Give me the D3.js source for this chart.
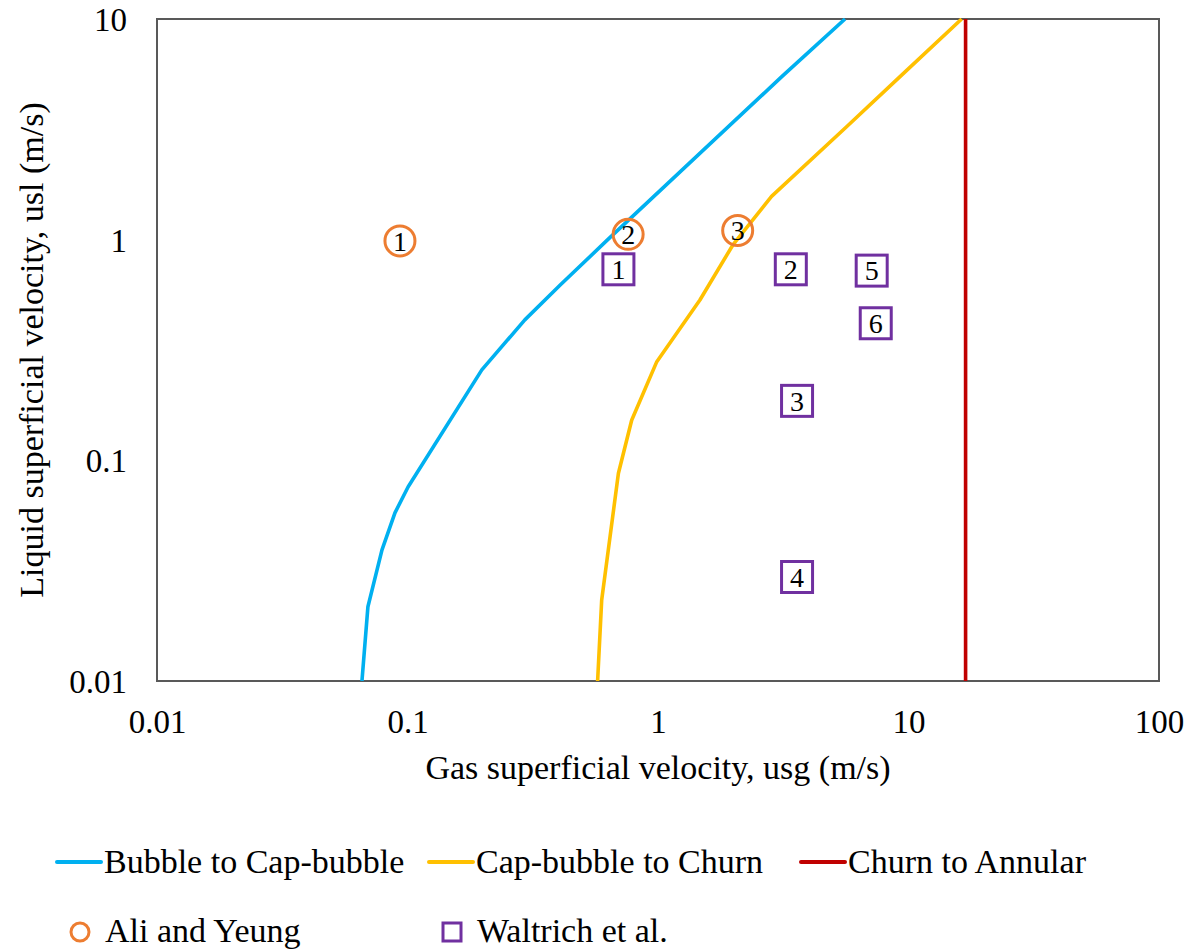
<!DOCTYPE html>
<html>
<head>
<meta charset="utf-8">
<script src="https://cdn.jsdelivr.net/npm/d3@7"></script>
<style>
  html, body { margin: 0; padding: 0; background: #fff; }
  svg { display: block; }
  svg text { font-family: "Liberation Serif", "Times New Roman", Times, serif; fill: #000; }
</style>
</head>
<body>
<svg id="chart" width="1192" height="951"></svg>
<script>
// ---- Data ----
const xTicks = [0.01, 0.1, 1, 10, 100];
const xTickLabels = ["0.01", "0.1", "1", "10", "100"];
const yTicks = [0.01, 0.1, 1, 10];
const yTickLabels = ["0.01", "0.1", "1", "10"];

const bubbleCapX = [0.0658, 0.0695, 0.0791, 0.0891, 0.1005, 0.198, 0.294, 0.407, 0.63, 3.12, 5.58];
const bubbleCapY = [0.01, 0.0217, 0.0393, 0.0578, 0.0757, 0.257, 0.433, 0.623, 1.0, 5.48, 10];

const capChurnX = [0.574, 0.596, 0.695, 0.785, 0.989, 1.47, 1.99, 2.84, 5.66, 9.25, 16.3];
const capChurnY = [0.01, 0.0233, 0.0874, 0.152, 0.28, 0.533, 0.946, 1.57, 3.25, 5.48, 10];

const churnAnnularX = [16.9, 16.9];
const churnAnnularY = [0.01, 10];

const aliLabels = ["1", "2", "3"];
const aliX = [0.0933, 0.76, 2.08];
const aliY = [0.987, 1.057, 1.10];

const waltLabels = ["1", "2", "3", "4", "5", "6"];
const waltX = [0.695, 3.39, 3.59, 3.59, 7.13, 7.40];
const waltY = [0.734, 0.734, 0.186, 0.0296, 0.724, 0.418];

const lineNames = ["Bubble to Cap-bubble", "Cap-bubble to Churn", "Churn to Annular"];
const markerNames = ["Ali and Yeung", "Waltrich et al."];

// ---- Layout ----
const FONT = "'Liberation Serif', 'Times New Roman', serif";
const C = { blue: "#00B0F0", orange: "#FFC000", red: "#C00000", circ: "#ED7D31", sq: "#7030A0", frame: "#595959" };
const plot = { left: 157, right: 1159, top: 19, bottom: 681 };

const svg = d3.select("#chart");
const x = d3.scaleLog().domain([0.01, 100]).range([plot.left, plot.right]);
const y = d3.scaleLog().domain([0.01, 10]).range([plot.bottom, plot.top]);

// Frame
svg.append("rect")
  .attr("x", plot.left).attr("y", plot.top)
  .attr("width", plot.right - plot.left).attr("height", plot.bottom - plot.top)
  .attr("fill", "none").attr("stroke", C.frame).attr("stroke-width", 2);

// Axes (labels only)
const xAxis = d3.axisBottom(x).tickValues(xTicks).tickSize(0)
  .tickFormat((d, i) => xTickLabels[i]);
const gx = svg.append("g").attr("transform", `translate(0,${plot.bottom})`).call(xAxis)
  .attr("font-family", FONT);
gx.select(".domain").remove();
gx.selectAll("text").attr("font-size", 33).attr("dy", null).attr("y", 52).attr("fill", "#000");

const yAxis = d3.axisLeft(y).tickValues(yTicks).tickSize(0)
  .tickFormat((d, i) => yTickLabels[i]);
const gy = svg.append("g").attr("transform", `translate(${plot.left},0)`).call(yAxis)
  .attr("font-family", FONT);
gy.select(".domain").remove();
gy.selectAll("text").attr("font-size", 33).attr("x", -30).attr("dy", "0.35em").attr("fill", "#000");

// Axis titles
svg.append("text").attr("x", (plot.left + plot.right) / 2).attr("y", 779)
  .attr("text-anchor", "middle").attr("font-size", 34)
  .text("Gas superficial velocity, usg (m/s)");
svg.append("text").attr("transform", `translate(43,${(plot.top + plot.bottom) / 2}) rotate(-90)`)
  .attr("text-anchor", "middle").attr("font-size", 34)
  .text("Liquid superficial velocity, usl (m/s)");

// Lines
const line = d3.line().x(d => x(d[0])).y(d => y(d[1]));
svg.append("clipPath").attr("id", "clip").append("rect")
  .attr("x", plot.left).attr("y", plot.top - 1)
  .attr("width", plot.right - plot.left).attr("height", plot.bottom - plot.top + 1);
const gl = svg.append("g").attr("clip-path", "url(#clip)");
function drawLine(xs, ys, color) {
  gl.append("path").datum(xs.map((v, i) => [v, ys[i]]))
    .attr("d", line).attr("fill", "none").attr("stroke", color)
    .attr("stroke-width", 3.6).attr("stroke-linejoin", "round");
}
drawLine(bubbleCapX, bubbleCapY, C.blue);
drawLine(capChurnX, capChurnY, C.orange);
drawLine(churnAnnularX, churnAnnularY, C.red);

// Markers
const r = 15;
const gA = svg.append("g");
aliX.forEach((v, i) => {
  const cx = x(v), cy = y(aliY[i]);
  gA.append("circle").attr("cx", cx).attr("cy", cy).attr("r", r)
    .attr("fill", "none").attr("stroke", C.circ).attr("stroke-width", 3);
  gA.append("text").attr("x", cx).attr("y", cy).attr("dy", "0.35em")
    .attr("text-anchor", "middle").attr("font-size", 28).text(aliLabels[i]);
});
const s = 31;
waltX.forEach((v, i) => {
  const cx = x(v), cy = y(waltY[i]);
  gA.append("rect").attr("x", cx - s / 2).attr("y", cy - s / 2).attr("width", s).attr("height", s)
    .attr("fill", "#fff").attr("stroke", C.sq).attr("stroke-width", 3);
  gA.append("text").attr("x", cx).attr("y", cy).attr("dy", "0.35em")
    .attr("text-anchor", "middle").attr("font-size", 28).text(waltLabels[i]);
});

// Legend
const lg = svg.append("g");
const lineLeg = [
  { name: lineNames[0], color: C.blue, x0: 57 },
  { name: lineNames[1], color: C.orange, x0: 429 },
  { name: lineNames[2], color: C.red, x0: 801 }
];
lineLeg.forEach(d => {
  lg.append("line").attr("x1", d.x0).attr("x2", d.x0 + 44).attr("y1", 862).attr("y2", 862)
    .attr("stroke", d.color).attr("stroke-width", 4).attr("stroke-linecap", "round");
  lg.append("text").attr("x", d.x0 + 47).attr("y", 873).attr("font-size", 34).text(d.name);
});
lg.append("circle").attr("cx", 80).attr("cy", 932).attr("r", 9)
  .attr("fill", "none").attr("stroke", C.circ).attr("stroke-width", 3);
lg.append("text").attr("x", 105).attr("y", 942).attr("font-size", 34).text(markerNames[0]);
lg.append("rect").attr("x", 443).attr("y", 923).attr("width", 18).attr("height", 18)
  .attr("fill", "none").attr("stroke", C.sq).attr("stroke-width", 3);
lg.append("text").attr("x", 477).attr("y", 942).attr("font-size", 34).text(markerNames[1]);
</script>
</body>
</html>
